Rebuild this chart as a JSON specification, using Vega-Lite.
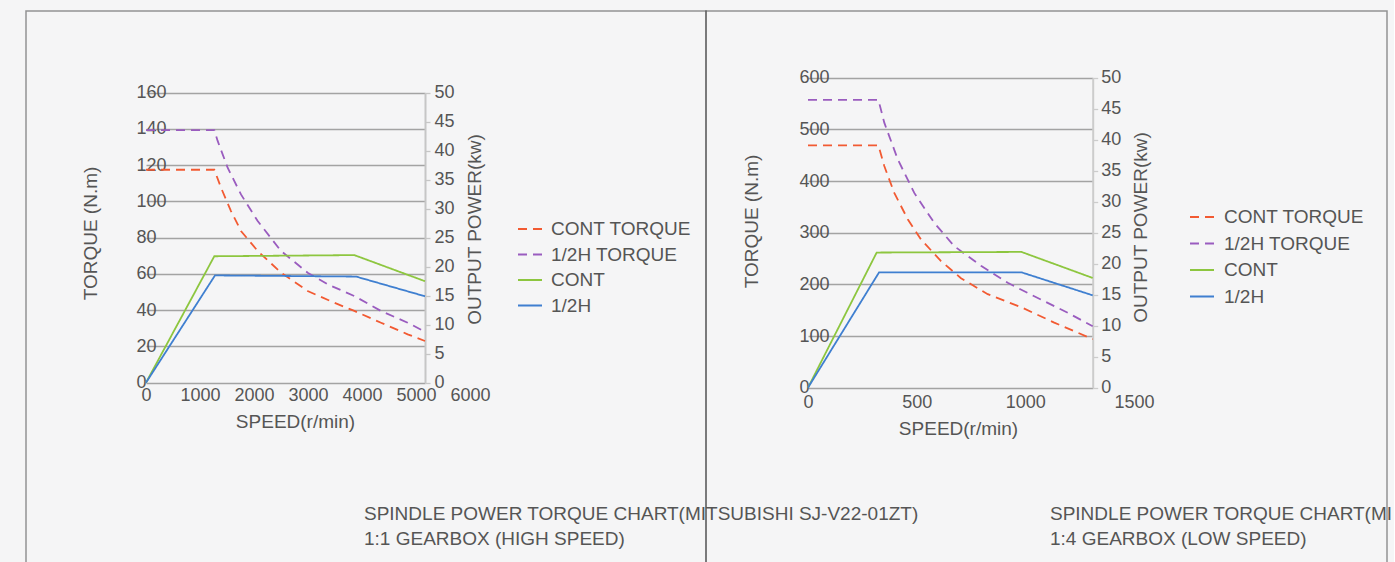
{
  "$schema": "https://vega.github.io/schema/vega-lite/v6.json",
  "background": "#f5f5f6",
  "padding": {"left": 25, "top": 10, "right": 0, "bottom": 0},
  "bounds": "flush",
  "spacing": 0,
  "resolve": {"scale": {"color": "independent", "strokeDash": "independent"}, "legend": {"color": "independent", "strokeDash": "independent"}},
  "config": {
    "font": "Liberation Sans",
    "view": {"stroke": "#1a1a1a", "strokeOpacity": 0.45, "strokeWidth": 1.5},
    "concat": {"spacing": 0},
    "axis": {"labelFontSize": 18, "labelColor": "#555555", "titleFontSize": 19, "titleFontWeight": "normal", "titleColor": "#555555", "labelOverlap": false, "labelBound": false, "labelFlush": false}
  },
  "datasets": {
    "high": [
      {"series": "CONT TORQUE", "speed": 0, "torque": 117.5},
      {"series": "CONT TORQUE", "speed": 1265, "torque": 117.5},
      {"series": "CONT TORQUE", "speed": 1389, "torque": 107.6},
      {"series": "CONT TORQUE", "speed": 1574, "torque": 94.7},
      {"series": "CONT TORQUE", "speed": 1759, "torque": 83.7},
      {"series": "CONT TORQUE", "speed": 2068, "torque": 72.7},
      {"series": "CONT TORQUE", "speed": 2500, "torque": 60.7},
      {"series": "CONT TORQUE", "speed": 2994, "torque": 50.6},
      {"series": "CONT TORQUE", "speed": 3488, "torque": 44.1},
      {"series": "CONT TORQUE", "speed": 3858, "torque": 39.6},
      {"series": "CONT TORQUE", "speed": 4352, "torque": 33.1},
      {"series": "CONT TORQUE", "speed": 4846, "torque": 26.7},
      {"series": "CONT TORQUE", "speed": 5167, "torque": 23.0},
      {"series": "1/2H TORQUE", "speed": 0, "torque": 139.4},
      {"series": "1/2H TORQUE", "speed": 1265, "torque": 139.4},
      {"series": "1/2H TORQUE", "speed": 1327, "torque": 133.4},
      {"series": "1/2H TORQUE", "speed": 1512, "torque": 118.6},
      {"series": "1/2H TORQUE", "speed": 1759, "torque": 103.9},
      {"series": "1/2H TORQUE", "speed": 2068, "torque": 89.2},
      {"series": "1/2H TORQUE", "speed": 2500, "torque": 72.7},
      {"series": "1/2H TORQUE", "speed": 2994, "torque": 60.7},
      {"series": "1/2H TORQUE", "speed": 3364, "torque": 54.3},
      {"series": "1/2H TORQUE", "speed": 3858, "torque": 47.8},
      {"series": "1/2H TORQUE", "speed": 4352, "torque": 39.6},
      {"series": "1/2H TORQUE", "speed": 4846, "torque": 33.1},
      {"series": "1/2H TORQUE", "speed": 5167, "torque": 28.1},
      {"series": "CONT", "speed": 0, "power": 0},
      {"series": "CONT", "speed": 1265, "power": 21.8},
      {"series": "CONT", "speed": 3858, "power": 22.0},
      {"series": "CONT", "speed": 5167, "power": 17.5},
      {"series": "1/2H", "speed": 0, "power": 0},
      {"series": "1/2H", "speed": 1278, "power": 18.5},
      {"series": "1/2H", "speed": 3889, "power": 18.3},
      {"series": "1/2H", "speed": 5167, "power": 14.9}
    ],
    "low": [
      {"series": "CONT TORQUE", "speed": 0, "torque": 469},
      {"series": "CONT TORQUE", "speed": 324, "torque": 469},
      {"series": "CONT TORQUE", "speed": 351, "torque": 429},
      {"series": "CONT TORQUE", "speed": 397, "torque": 377},
      {"series": "CONT TORQUE", "speed": 459, "torque": 326},
      {"series": "CONT TORQUE", "speed": 520, "torque": 287},
      {"series": "CONT TORQUE", "speed": 612, "torque": 245},
      {"series": "CONT TORQUE", "speed": 704, "torque": 212},
      {"series": "CONT TORQUE", "speed": 827, "torque": 181},
      {"series": "CONT TORQUE", "speed": 980, "torque": 156},
      {"series": "CONT TORQUE", "speed": 1133, "torque": 126},
      {"series": "CONT TORQUE", "speed": 1310, "torque": 94},
      {"series": "1/2H TORQUE", "speed": 0, "torque": 557},
      {"series": "1/2H TORQUE", "speed": 324, "torque": 557},
      {"series": "1/2H TORQUE", "speed": 351, "torque": 513},
      {"series": "1/2H TORQUE", "speed": 413, "torque": 442},
      {"series": "1/2H TORQUE", "speed": 489, "torque": 377},
      {"series": "1/2H TORQUE", "speed": 581, "torque": 319},
      {"series": "1/2H TORQUE", "speed": 673, "torque": 274},
      {"series": "1/2H TORQUE", "speed": 796, "torque": 236},
      {"series": "1/2H TORQUE", "speed": 919, "torque": 203},
      {"series": "1/2H TORQUE", "speed": 1041, "torque": 177},
      {"series": "1/2H TORQUE", "speed": 1195, "torque": 145},
      {"series": "1/2H TORQUE", "speed": 1310, "torque": 119},
      {"series": "CONT", "speed": 0, "power": 0},
      {"series": "CONT", "speed": 316, "power": 21.8},
      {"series": "CONT", "speed": 982, "power": 21.9},
      {"series": "CONT", "speed": 1310, "power": 17.7},
      {"series": "1/2H", "speed": 0, "power": 0},
      {"series": "1/2H", "speed": 327, "power": 18.6},
      {"series": "1/2H", "speed": 983, "power": 18.6},
      {"series": "1/2H", "speed": 1310, "power": 14.9}
    ]
  },
  "hconcat": [
    {
      "width": 680,
      "height": 553,
      "data": {"name": "high"},
      "title": {"text": ["SPINDLE POWER TORQUE CHART(MITSUBISHI SJ-V22-01ZT)", "1:1 GEARBOX (HIGH SPEED)"], "orient": "top", "anchor": "start", "frame": "group", "offset": 0, "dx": 338, "dy": 553, "baseline": "alphabetic", "lineHeight": 25, "fontSize": 19, "fontWeight": "normal", "color": "#555555"},
      "layer": [
        {
          "transform": [{"filter": {"field": "torque", "valid": true}}],
          "mark": {"type": "line", "strokeWidth": 1.8},
          "encoding": {
            "x": {"field": "speed", "type": "quantitative", "scale": {"domain": [0, 5167], "range": [120, 399], "nice": false, "zero": false}, "axis": null},
            "y": {"field": "torque", "type": "quantitative", "scale": {"domain": [0, 160], "range": [371.7, 81.7], "nice": false},
              "axis": {"orient": "left", "offset": -120, "title": "TORQUE (N.m)", "values": [0, 20, 40, 60, 80, 100, 120, 140, 160], "grid": true, "gridColor": "#a3a3a3", "gridWidth": 1.4, "domain": false, "ticks": false, "tickSize": 0, "labelAlign": "left", "labelBaseline": "middle", "labelPadding": 10, "titleAngle": 270, "titleBaseline": "bottom", "titlePadding": 16, "minExtent": 30, "maxExtent": 30, "titleY": 222}},
            "color": {"field": "series", "type": "nominal", "scale": {"domain": ["CONT TORQUE", "1/2H TORQUE", "CONT", "1/2H"], "range": ["#f25a32", "#9a5cbf", "#8dc63f", "#3f7fd0"]},
              "legend": {"orient": "none", "legendX": 491, "legendY": 205, "title": null, "padding": 0, "symbolType": "stroke", "symbolSize": 576, "symbolStrokeWidth": 2, "labelFontSize": 19, "labelColor": "#555555", "labelOffset": 8, "rowPadding": 2.5, "labelLimit": 300}},
            "strokeDash": {"field": "series", "type": "nominal", "scale": {"domain": ["CONT TORQUE", "1/2H TORQUE", "CONT", "1/2H"], "range": [[9, 6], [9, 6], [1, 0], [1, 0]]},
              "legend": {"orient": "none", "legendX": 491, "legendY": 205, "title": null, "padding": 0, "symbolType": "stroke", "symbolSize": 576, "symbolStrokeWidth": 2, "labelFontSize": 19, "labelColor": "#555555", "labelOffset": 8, "rowPadding": 2.5, "labelLimit": 300}}
          }
        },
        {
          "transform": [{"filter": {"field": "power", "valid": true}}],
          "mark": {"type": "line", "strokeWidth": 1.8},
          "encoding": {
            "x": {"field": "speed", "type": "quantitative", "scale": {"domain": [0, 5167], "range": [120, 399], "nice": false, "zero": false}, "axis": null},
            "y": {"field": "power", "type": "quantitative", "scale": {"domain": [0, 50], "range": [371.7, 81.7], "nice": false},
              "axis": {"orient": "right", "offset": -281, "title": "OUTPUT POWER(kw)", "values": [0, 5, 10, 15, 20, 25, 30, 35, 40, 45, 50], "grid": false, "domain": true, "domainColor": "#c6c6c6", "domainWidth": 2, "ticks": true, "tickColor": "#c6c6c6", "tickSize": 5, "tickWidth": 1.3, "labelAlign": "left", "labelBaseline": "middle", "labelPadding": 4, "titleAngle": 270, "titleBaseline": "top", "titlePadding": 10, "minExtent": 30, "maxExtent": 30, "titleY": 218}},
            "color": {"field": "series", "type": "nominal", "scale": {"domain": ["CONT TORQUE", "1/2H TORQUE", "CONT", "1/2H"], "range": ["#f25a32", "#9a5cbf", "#8dc63f", "#3f7fd0"]},
              "legend": {"orient": "none", "legendX": 491, "legendY": 205, "title": null, "padding": 0, "symbolType": "stroke", "symbolSize": 576, "symbolStrokeWidth": 2, "labelFontSize": 19, "labelColor": "#555555", "labelOffset": 8, "rowPadding": 2.5, "labelLimit": 300}},
            "strokeDash": {"field": "series", "type": "nominal", "scale": {"domain": ["CONT TORQUE", "1/2H TORQUE", "CONT", "1/2H"], "range": [[9, 6], [9, 6], [1, 0], [1, 0]]},
              "legend": {"orient": "none", "legendX": 491, "legendY": 205, "title": null, "padding": 0, "symbolType": "stroke", "symbolSize": 576, "symbolStrokeWidth": 2, "labelFontSize": 19, "labelColor": "#555555", "labelOffset": 8, "rowPadding": 2.5, "labelLimit": 300}}
          }
        },
        {
          "mark": {"type": "point", "opacity": 0},
          "encoding": {
            "x": {"field": "speed", "type": "quantitative", "scale": {"domain": [0, 6000], "range": [120, 444], "nice": false, "zero": false},
              "axis": {"orient": "bottom", "offset": -181.3, "values": [0, 1000, 2000, 3000, 4000, 5000, 6000], "format": "d", "grid": false, "domain": false, "ticks": false, "tickSize": 0, "labelPadding": 4, "title": "SPEED(r/min)", "titleX": 269, "titleBaseline": "top", "titlePadding": 10, "minExtent": 20, "maxExtent": 20}}
          }
        }
      ],
      "resolve": {"scale": {"x": "independent", "y": "independent"}}
    },
    {
      "width": 681,
      "height": 553,
      "data": {"name": "low"},
      "title": {"text": ["SPINDLE POWER TORQUE CHART(MI", "1:4 GEARBOX (LOW SPEED)"], "orient": "top", "anchor": "start", "frame": "group", "offset": 0, "dx": 344, "dy": 553, "baseline": "alphabetic", "lineHeight": 25, "fontSize": 19, "fontWeight": "normal", "color": "#555555"},
      "layer": [
        {
          "transform": [{"filter": {"field": "torque", "valid": true}}],
          "mark": {"type": "line", "strokeWidth": 1.8},
          "encoding": {
            "x": {"field": "speed", "type": "quantitative", "scale": {"domain": [0, 1310], "range": [102, 386.7], "nice": false, "zero": false}, "axis": null},
            "y": {"field": "torque", "type": "quantitative", "scale": {"domain": [0, 600], "range": [376.7, 66.7], "nice": false},
              "axis": {"orient": "left", "offset": -102, "title": "TORQUE (N.m)", "values": [0, 100, 200, 300, 400, 500, 600], "grid": true, "gridColor": "#a3a3a3", "gridWidth": 1.4, "domain": false, "ticks": false, "tickSize": 0, "labelAlign": "left", "labelBaseline": "middle", "labelPadding": 9, "titleAngle": 270, "titleBaseline": "bottom", "titlePadding": 17, "minExtent": 30, "maxExtent": 30, "titleY": 210}},
            "color": {"field": "series", "type": "nominal", "scale": {"domain": ["CONT TORQUE", "1/2H TORQUE", "CONT", "1/2H"], "range": ["#f25a32", "#9a5cbf", "#8dc63f", "#3f7fd0"]},
              "legend": {"orient": "none", "legendX": 483, "legendY": 193, "title": null, "padding": 0, "symbolType": "stroke", "symbolSize": 576, "symbolStrokeWidth": 2, "labelFontSize": 19, "labelColor": "#555555", "labelOffset": 9, "rowPadding": 3.5, "labelLimit": 300}},
            "strokeDash": {"field": "series", "type": "nominal", "scale": {"domain": ["CONT TORQUE", "1/2H TORQUE", "CONT", "1/2H"], "range": [[9, 6], [9, 6], [1, 0], [1, 0]]},
              "legend": {"orient": "none", "legendX": 483, "legendY": 193, "title": null, "padding": 0, "symbolType": "stroke", "symbolSize": 576, "symbolStrokeWidth": 2, "labelFontSize": 19, "labelColor": "#555555", "labelOffset": 9, "rowPadding": 3.5, "labelLimit": 300}}
          }
        },
        {
          "transform": [{"filter": {"field": "power", "valid": true}}],
          "mark": {"type": "line", "strokeWidth": 1.8},
          "encoding": {
            "x": {"field": "speed", "type": "quantitative", "scale": {"domain": [0, 1310], "range": [102, 386.7], "nice": false, "zero": false}, "axis": null},
            "y": {"field": "power", "type": "quantitative", "scale": {"domain": [0, 50], "range": [376.7, 66.7], "nice": false},
              "axis": {"orient": "right", "offset": -294.3, "title": "OUTPUT POWER(kw)", "values": [0, 5, 10, 15, 20, 25, 30, 35, 40, 45, 50], "grid": false, "domain": true, "domainColor": "#cccccc", "domainWidth": 2, "ticks": true, "tickColor": "#cccccc", "tickSize": 5, "tickWidth": 1.3, "labelAlign": "left", "labelBaseline": "middle", "labelPadding": 3, "titleAngle": 270, "titleBaseline": "top", "titlePadding": 9, "minExtent": 30, "maxExtent": 30, "titleY": 216}},
            "color": {"field": "series", "type": "nominal", "scale": {"domain": ["CONT TORQUE", "1/2H TORQUE", "CONT", "1/2H"], "range": ["#f25a32", "#9a5cbf", "#8dc63f", "#3f7fd0"]},
              "legend": {"orient": "none", "legendX": 483, "legendY": 193, "title": null, "padding": 0, "symbolType": "stroke", "symbolSize": 576, "symbolStrokeWidth": 2, "labelFontSize": 19, "labelColor": "#555555", "labelOffset": 9, "rowPadding": 3.5, "labelLimit": 300}},
            "strokeDash": {"field": "series", "type": "nominal", "scale": {"domain": ["CONT TORQUE", "1/2H TORQUE", "CONT", "1/2H"], "range": [[9, 6], [9, 6], [1, 0], [1, 0]]},
              "legend": {"orient": "none", "legendX": 483, "legendY": 193, "title": null, "padding": 0, "symbolType": "stroke", "symbolSize": 576, "symbolStrokeWidth": 2, "labelFontSize": 19, "labelColor": "#555555", "labelOffset": 9, "rowPadding": 3.5, "labelLimit": 300}}
          }
        },
        {
          "mark": {"type": "point", "opacity": 0},
          "encoding": {
            "x": {"field": "speed", "type": "quantitative", "scale": {"domain": [0, 1500], "range": [102, 428], "nice": false, "zero": false},
              "axis": {"orient": "bottom", "offset": -176.3, "values": [0, 500, 1000, 1500], "format": "d", "grid": false, "domain": false, "ticks": false, "tickSize": 0, "labelPadding": 6, "title": "SPEED(r/min)", "titleX": 252, "titleBaseline": "top", "titlePadding": 12, "minExtent": 20, "maxExtent": 20}}
          }
        }
      ],
      "resolve": {"scale": {"x": "independent", "y": "independent"}}
    }
  ]
}
